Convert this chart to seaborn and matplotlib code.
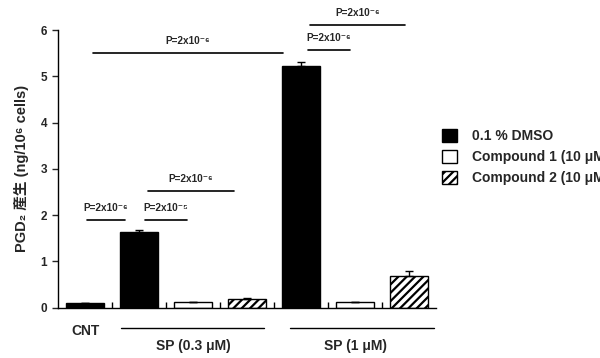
import numpy as np
import pandas as pd
import matplotlib
matplotlib.use("Agg")
import matplotlib.pyplot as plt
import matplotlib.patches as mpatches
import seaborn as sns

# --- data ---
bar_names = ["CNT", "SP0.3 DMSO", "SP0.3 C1", "SP0.3 C2", "SP1 DMSO", "SP1 C1", "SP1 C2"]
treatments = ["0.1 % DMSO", "0.1 % DMSO", "Compound 1 (10 μM)", "Compound 2 (10 μM)",
              "0.1 % DMSO", "Compound 1 (10 μM)", "Compound 2 (10 μM)"]
pgd2 = [0.10, 1.63, 0.12, 0.18, 5.22, 0.12, 0.68]
sem = [0.0, 0.05, 0.0, 0.03, 0.10, 0.0, 0.12]
legend_labels = ["0.1 % DMSO", "Compound 1 (10 μM)", "Compound 2 (10 μM)"]

# significance brackets: x start, x end, height, text
brackets = [
    (0.04, 0.74, 1.89, "P=2x10⁻⁶"),
    (1.11, 1.89, 1.89, "P=2x10⁻⁵"),
    (1.17, 2.76, 2.52, "P=2x10⁻⁶"),
    (0.15, 3.67, 5.50, "P=2x10⁻⁶"),
    (4.13, 4.91, 5.56, "P=2x10⁻⁶"),
    (4.17, 5.93, 6.12, "P=2x10⁻⁶"),
]

df = pd.DataFrame({"bar": bar_names, "treat": treatments, "value": pgd2})

sns.set_theme(style="white")
fonts = ["Liberation Sans", "Noto Sans CJK JP", "DejaVu Sans"]
plt.rcParams["font.family"] = fonts
plt.rcParams["font.weight"] = "bold"
plt.rcParams["hatch.linewidth"] = 1.6

fig = plt.figure(figsize=(6, 3.58), dpi=100)
ax = fig.add_axes([0.0967, 0.1408, 0.63, 0.7752])

pal = {"0.1 % DMSO": "black", "Compound 1 (10 μM)": "white", "Compound 2 (10 μM)": "white"}
sns.barplot(data=df, x="bar", y="value", hue="treat", hue_order=legend_labels,
            order=bar_names, palette=pal, dodge=False, width=0.72,
            edgecolor="black", linewidth=1, legend=False, ax=ax)
for bar in ax.containers[2]:
    bar.set_hatch("////")

xs = np.arange(len(pgd2))
ax.errorbar(xs, pgd2, yerr=[np.zeros(len(sem)), sem], fmt="none",
            ecolor="black", elinewidth=1, capsize=3, capthick=1)

ax.set_xlim(-0.5, 6.5)
ax.set_ylim(0, 6)
ax.set_xticks(np.arange(0.5, 6, 1))
ax.set_xticklabels([])
ax.tick_params(axis="x", direction="in", length=4, width=1, bottom=True, colors="black")
ax.set_yticks(range(7))
ax.tick_params(axis="y", direction="out", length=4, width=1, left=True, labelsize=8.5, pad=4)
ax.set_xlabel("")
ax.set_ylabel("PGD₂ 産生 (ng/10⁶ cells)", fontsize=10.5, fontweight="bold", labelpad=8)
for s in ["top", "right"]:
    ax.spines[s].set_visible(False)
for s in ["left", "bottom"]:
    ax.spines[s].set_color("black")
    ax.spines[s].set_linewidth(1)

# brackets
for x0, x1, h, txt in brackets:
    ax.plot([x0, x1], [h, h], color="black", lw=1.2, clip_on=False)
    ax.text((x0 + x1) / 2, h + 0.15, txt, ha="center", va="bottom", fontsize=7.2,
            fontweight="bold", clip_on=False)

# group labels under the axis
trans = ax.get_xaxis_transform()
ax.text(0, -0.083, "CNT", transform=trans, ha="center", va="center", fontsize=10, fontweight="bold")
ax.plot([0.67, 3.31], [-0.0735, -0.0735], transform=trans, color="black", lw=1, clip_on=False)
ax.text(2, -0.137, "SP (0.3 μM)", transform=trans, ha="center", va="center", fontsize=10, fontweight="bold")
ax.plot([3.8, 6.46], [-0.0735, -0.0735], transform=trans, color="black", lw=1, clip_on=False)
ax.text(5, -0.137, "SP (1 μM)", transform=trans, ha="center", va="center", fontsize=10, fontweight="bold")

# legend
handles = [
    mpatches.Patch(facecolor="black", edgecolor="black", label=legend_labels[0]),
    mpatches.Patch(facecolor="white", edgecolor="black", label=legend_labels[1]),
    mpatches.Patch(facecolor="white", edgecolor="black", hatch="////", label=legend_labels[2]),
]
fig.legend(handles=handles, loc="upper left", bbox_to_anchor=(0.737, 0.64),
           bbox_transform=fig.transFigure, frameon=False,
           prop={"weight": "bold", "size": 10}, handlelength=1.05, handleheight=1.05,
           handletextpad=1.1, labelspacing=0.5, borderpad=0, borderaxespad=0)

fig.savefig("out.png", dpi=100)
